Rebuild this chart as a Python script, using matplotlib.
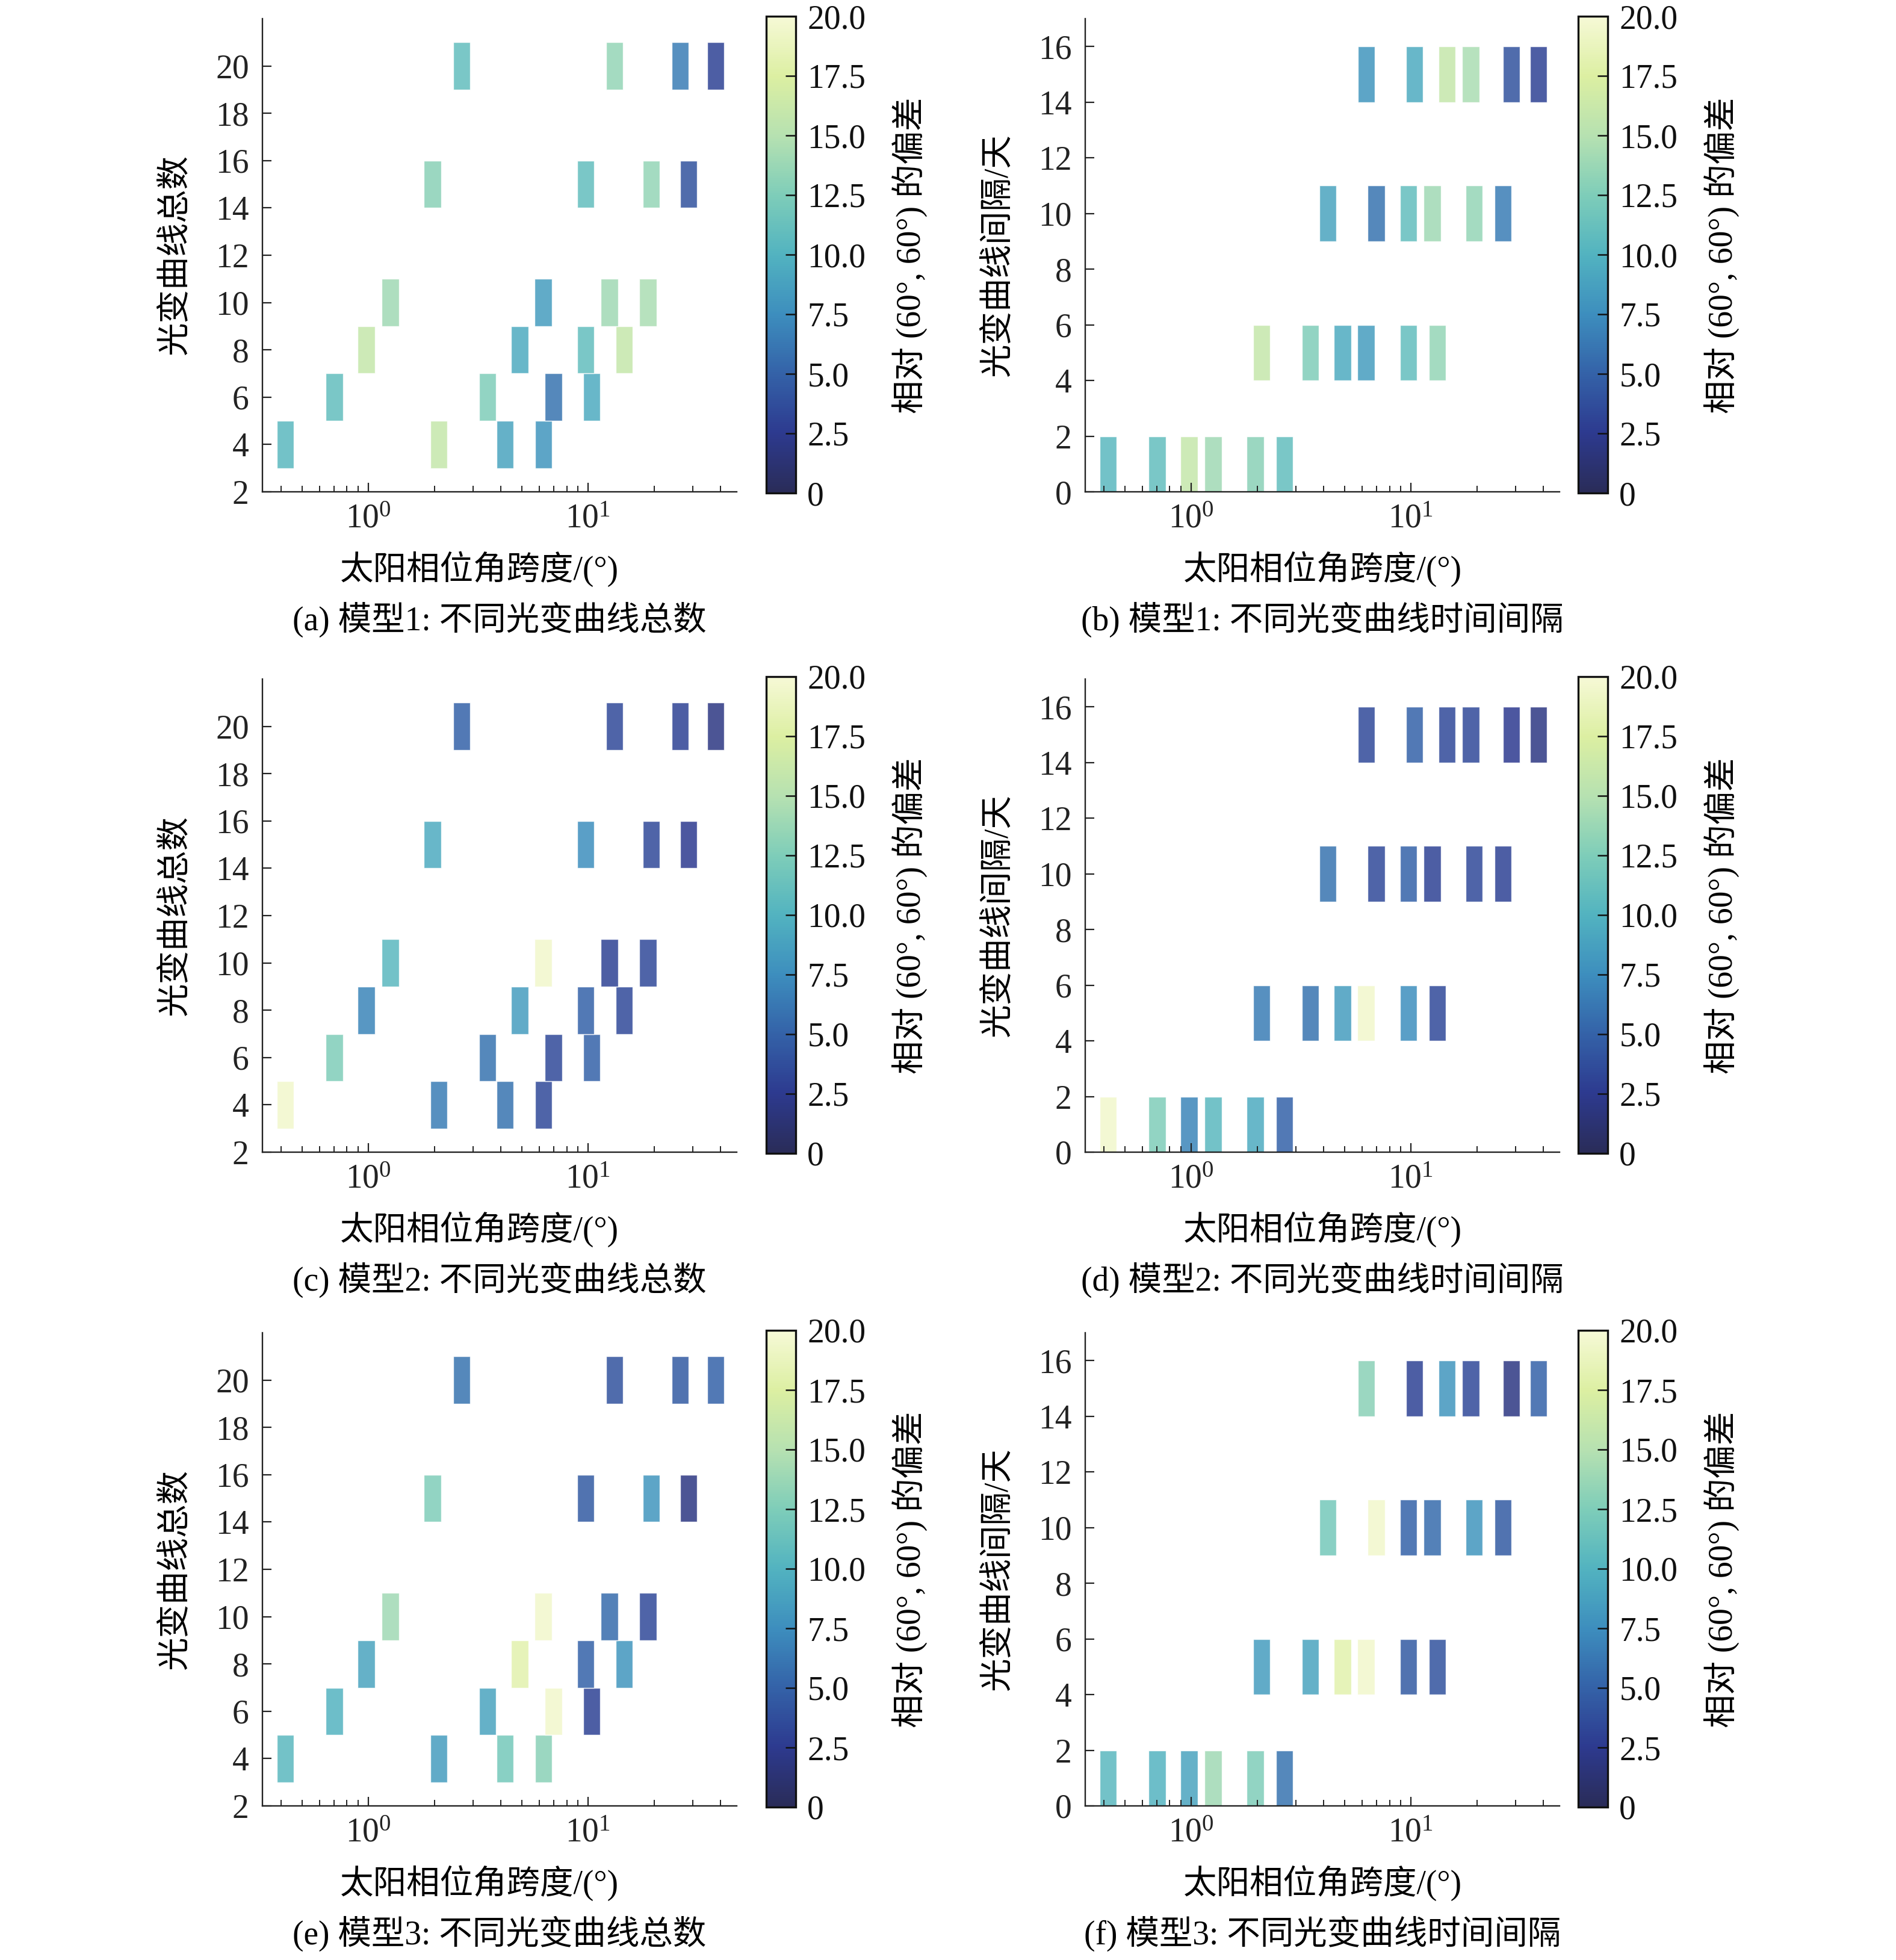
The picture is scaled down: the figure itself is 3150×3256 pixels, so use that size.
import matplotlib
matplotlib.use("Agg")
import matplotlib.pyplot as plt
import numpy as np
from matplotlib.colors import LinearSegmentedColormap, Normalize
from matplotlib.ticker import FixedLocator, FuncFormatter, LogLocator, NullFormatter

plt.rcParams['font.family'] = ['Liberation Serif', 'Noto Sans CJK SC']
plt.rcParams['mathtext.fontset'] = 'stix'
plt.rcParams['axes.unicode_minus'] = False

# ---------------- data ----------------
N_TOTAL = [4, 6, 8, 10, 15, 20]          # 光变曲线总数
INTERVALS = [1, 5, 10, 15]               # 光变曲线间隔/天

# 太阳相位角跨度 (deg), rows = N_TOTAL, cols = INTERVALS
SPAN = [
    [0.42, 2.09, 4.19, 6.27],
    [0.70, 3.49, 6.96, 10.4],
    [0.98, 4.89, 9.75, 14.6],
    [1.26, 6.25, 12.5, 18.7],
    [1.96, 9.75, 19.4, 28.7],
    [2.66, 13.2, 26.2, 38.1],
]

# 相对 (60°, 60°) 的偏差, rows = N_TOTAL, cols = INTERVALS
DEV_M1 = [
    [10.5, 16.0, 9.0, 8.0],
    [11.0, 12.5, 6.0, 9.5],
    [16.0, 9.5, 11.0, 16.0],
    [14.0, 8.5, 14.0, 14.5],
    [13.0, 11.0, 13.5, 4.0],
    [11.0, 13.5, 6.5, 3.0],
]
DEV_M2 = [
    [19.5, 6.5, 6.0, 3.5],
    [12.5, 6.0, 3.5, 5.0],
    [7.0, 8.5, 5.0, 3.5],
    [10.5, 19.5, 3.0, 3.5],
    [9.5, 7.5, 3.5, 2.5],
    [5.0, 3.5, 3.0, 2.0],
]
DEV_M3 = [
    [10.5, 8.5, 12.0, 13.0],
    [10.0, 9.0, 19.5, 3.0],
    [9.0, 18.0, 5.0, 8.0],
    [14.0, 19.5, 5.5, 3.5],
    [12.5, 4.5, 8.0, 2.0],
    [6.0, 4.0, 4.5, 5.0],
]

CBAR_TICKS = [0, 2.5, 5.0, 7.5, 10.0, 12.5, 15.0, 17.5, 20.0]

LEFT_CAPTIONS = ["(a) 模型1: 不同光变曲线总数", "(c) 模型2: 不同光变曲线总数", "(e) 模型3: 不同光变曲线总数"]
RIGHT_CAPTIONS = ["(b) 模型1: 不同光变曲线时间间隔", "(d) 模型2: 不同光变曲线时间间隔", "(f) 模型3: 不同光变曲线时间间隔"]
XLABEL = "太阳相位角跨度/(°)"
YLABEL_LEFT = "光变曲线总数"
YLABEL_RIGHT = "光变曲线间隔/天"
CBAR_LABEL = "相对 (60°, 60°) 的偏差"

# ---------------- style ----------------
cmap = LinearSegmentedColormap.from_list(
    "dev",
    ["#2a2c58", "#2d3a8f", "#3462a8", "#3d8ebe", "#52b3c0",
     "#7ecdb9", "#b6e1b1", "#dcefa2", "#f6f9d6"])
norm = Normalize(vmin=0, vmax=20)

W, H = 3150, 3256
fig = plt.figure(figsize=(W / 100, H / 100), dpi=100)

FS = 40
HALF_W = 10 ** 0.039   # half bar width factor in log space
ALPHA = 0.85

col_left = [436 / W, 1803 / W]
ax_w = 0.2502
cb_left = [1273 / W, 2622 / W]
cb_w = 0.0155
rows_top_px = [31, 1128, 2214]
ax_h_px = 786
cb_extra = 4
xlabel_shift = [-34, 0]


def style_axes(ax):
    for s in ["top", "right"]:
        ax.spines[s].set_visible(False)
    for s in ["left", "bottom"]:
        ax.spines[s].set_linewidth(1.7)
        ax.spines[s].set_color("#222222")
    ax.set_xscale("log")
    ax.set_xlim(0.33, 47.5)
    ax.xaxis.set_major_locator(LogLocator(base=10, numticks=10))
    ax.xaxis.set_minor_locator(LogLocator(base=10, subs=np.arange(2, 10), numticks=20))
    ax.xaxis.set_minor_formatter(NullFormatter())
    ax.tick_params(axis="both", which="major", direction="in", length=11, width=1.6,
                   labelsize=FS, colors="#222222", top=False, right=False)
    ax.tick_params(axis="x", which="minor", direction="in", length=7, width=1.4,
                   top=False, colors="#222222")
    ax.tick_params(axis="y", which="major", pad=16)
    ax.tick_params(axis="x", which="major", pad=14)


def add_cbar(row, col):
    top = rows_top_px[row] - cb_extra
    bottom = rows_top_px[row] + ax_h_px + 2
    cax = fig.add_axes([cb_left[col], 1 - bottom / H, cb_w, (bottom - top) / H])
    sm = plt.cm.ScalarMappable(norm=norm, cmap=cmap)
    cb = fig.colorbar(sm, cax=cax)
    cb.outline.set_linewidth(2.4)
    cb.outline.set_edgecolor("#111111")
    cb.set_ticks(CBAR_TICKS)
    cb.ax.yaxis.set_major_formatter(FuncFormatter(lambda v, p: "0" if v == 0 else f"{v:.1f}"))
    cb.ax.tick_params(direction="in", length=12, width=1.8, labelsize=FS, pad=14, colors="#111111")
    cx = (cb_left[col] + cb_w) * W + 190
    cy = rows_top_px[row] + ax_h_px / 2
    fig.text(cx / W, 1 - cy / H, CBAR_LABEL, rotation=90, ha="center", va="center", fontsize=FS)


DEVS = [DEV_M1, DEV_M2, DEV_M3]

for r in range(3):
    dev = DEVS[r]
    top_px = rows_top_px[r]
    for c in range(2):
        ax = fig.add_axes([col_left[c], 1 - (top_px + ax_h_px) / H, ax_w, ax_h_px / H])
        style_axes(ax)
        for i, n in enumerate(N_TOTAL):
            for j, itv in enumerate(INTERVALS):
                x = SPAN[i][j]
                yv = n if c == 0 else itv
                left = x / HALF_W
                ax.bar(left, 2, width=x * HALF_W - left, bottom=yv - 1, align="edge",
                       color=cmap(norm(dev[i][j])), alpha=ALPHA,
                       edgecolor=(1, 1, 1, 0.6), linewidth=1.0)
        if c == 0:
            ax.set_ylim(2, 22)
            ax.yaxis.set_major_locator(FixedLocator(np.arange(2, 21, 2)))
            ylab = YLABEL_LEFT
            cap = LEFT_CAPTIONS[r]
        else:
            ax.set_ylim(0, 17)
            ax.yaxis.set_major_locator(FixedLocator(np.arange(0, 17, 2)))
            ylab = YLABEL_RIGHT
            cap = RIGHT_CAPTIONS[r]
        cx = (col_left[c] + ax_w / 2) * W
        bottom_px = top_px + ax_h_px
        # y label
        fig.text((col_left[c] * W - 145) / W, 1 - (top_px + ax_h_px / 2) / H, ylab,
                 rotation=90, ha="center", va="center", fontsize=FS)
        # x label
        fig.text((cx + xlabel_shift[c]) / W, 1 - (bottom_px + 128) / H, XLABEL,
                 ha="center", va="center", fontsize=FS)
        # caption
        fig.text(cx / W, 1 - (bottom_px + 212) / H, cap, ha="center", va="center", fontsize=FS)
        add_cbar(r, c)

fig.savefig("out.png", dpi=100, facecolor="white")
